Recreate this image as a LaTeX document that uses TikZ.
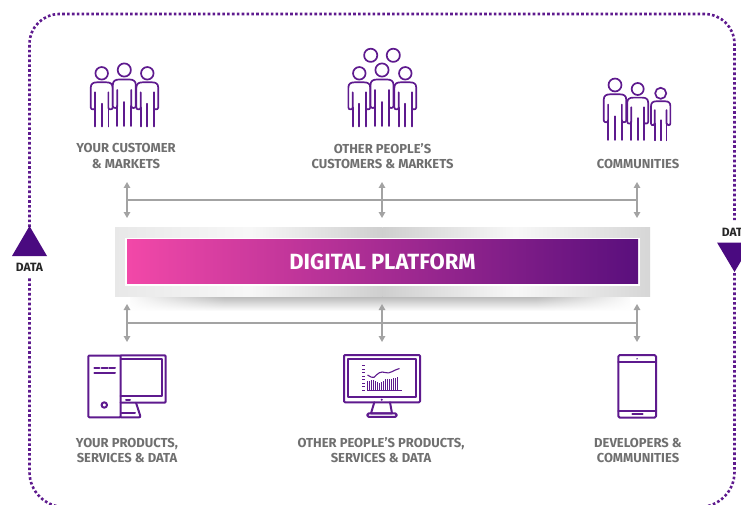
\documentclass[tikz,border=0pt]{standalone}
\usepackage{fontspec}
\setmainfont{Fira Sans}
\usetikzlibrary{arrows.meta,fadings}
\definecolor{pur}{HTML}{5E1A8E}
\definecolor{tri}{HTML}{4A0A80}
\definecolor{gry}{HTML}{A3A3A3}
\definecolor{lab}{HTML}{707070}
\tikzset{
  icon/.style={draw=pur,line width=1.7pt,line join=round,line cap=round},
  device/.style={draw=pur,line width=2pt,line join=round,line cap=round},
  dotline/.style={draw=pur,line width=2.6pt,dash pattern=on 2.6pt off 2.25pt},
  lbl/.style={font=\fontsize{13}{15.5}\selectfont\bfseries,text=lab,align=center,inner sep=0pt},
  datatxt/.style={font=\fontsize{12}{13}\selectfont\bfseries,text=black!85,inner sep=0pt},
  link/.style={draw=gry,line width=1.3pt},
  twoway/.style={link,{Triangle[width=6.5pt,length=6pt]}-{Triangle[width=6.5pt,length=6pt]}},
}
% #1 x, #2 y of head centre, #3 scale
\newcommand{\folk}[3]{%
  \begin{scope}[shift={(#1,#2)},scale=#3]
    \draw[icon] (0,0) circle (6.6);
    \fill[white] (-11.5,15) .. controls (-11.5,11) and (-9,9.5) .. (-5,9.5) -- (5,9.5) .. controls (9,9.5) and (11.5,11) .. (11.5,15) -- (11.5,38) -- (7,38) -- (7,56) -- (-7,56) -- (-7,38) -- (-11.5,38) -- cycle;
    \draw[icon] (-7,20) -- (-7,36) .. controls (-7,37.5) and (-8,38) .. (-9,38) .. controls (-10.5,38) and (-11.5,37.5) .. (-11.5,36) -- (-11.5,15) .. controls (-11.5,11) and (-9,9.5) .. (-5,9.5) -- (5,9.5) .. controls (9,9.5) and (11.5,11) .. (11.5,15) -- (11.5,36) .. controls (11.5,37.5) and (10.5,38) .. (9,38) .. controls (8,38) and (7,37.5) .. (7,36) -- (7,20);
    \draw[icon] (-7,36) -- (-7,56) (7,36) -- (7,56) (0,32) -- (0,56);
  \end{scope}}
\begin{document}
\begin{tikzpicture}[x=1pt,y=-1pt]
\useasboundingbox (0,0) rectangle (741,505);
\clip (0,0) rectangle (741,505);
\fill[white] (0,0) rectangle (741,505);

% dotted frame
\coordinate (ltop) at (29.5,227);
\coordinate (lbot) at (29.5,278);
\coordinate (rtop) at (734.5,220);
\coordinate (rbot) at (734.5,273);
\draw[dotline,rounded corners=30pt] (ltop) -- (29.5,14) -- (734.5,14) -- (rtop);
\draw[dotline,rounded corners=35pt] (rbot) -- (734.5,507) -- (29.5,507) -- (lbot);

% data markers
\fill[tri] (29.5,226) -- (47,256) -- (12,256) -- cycle;
\node[datatxt] (dl) at (29.5,267) {DATA};
\fill[tri] (734.5,272) -- (717,242.5) -- (752,242.5) -- cycle;
\node[datatxt] (dr) at (735.5,232.5) {DATA};

% platform
\shade[top color=black!30,bottom color=white] (130,295) rectangle (630,311);
\fill[white,path fading=east] (125,294) rectangle (225,312);
\fill[white,path fading=west] (535,294) rectangle (635,312);
\shade[left color=black!9,right color=black!3] (115,227) rectangle (250,296);
\shade[left color=black!3,right color=black!19] (250,227) rectangle (382.5,296);
\shade[left color=black!19,right color=black!3] (382.5,227) rectangle (515,296);
\shade[left color=black!3,right color=black!16] (515,227) rectangle (650,296);
\fill[white] (125,238) rectangle (640,285.5);
\node[minimum width=511pt,minimum height=43.5pt,inner sep=0pt,left color={rgb,255:red,242;green,72;blue,168},right color={rgb,255:red,90;green,15;blue,125},text=white,font=\fontsize{22}{24}\selectfont\bfseries] (plat) at (382.5,261.5) {DIGITAL PLATFORM};

% top people
\folk{101.7}{73.3}{0.95}
\folk{147.3}{73.3}{0.95}
\folk{124.3}{70}{1}
\draw[icon] (370.7,55.3) circle (6.6) (393.3,55.3) circle (6.6);
\folk{359.3}{73.3}{0.95}
\folk{405.3}{73.3}{0.95}
\folk{382}{70}{1}
\folk{660.7}{93.3}{0.84}
\folk{637.7}{89}{0.91}
\folk{615}{85}{0.98}

\node[lbl] (a) at (126,156) {YOUR CUSTOMER\\\& MARKETS};
\node[lbl] (b) at (382.5,156) {OTHER PEOPLE'S\\CUSTOMERS \& MARKETS};
\node[lbl] (c) at (638,163.5) {COMMUNITIES};
\node[lbl] (d) at (127,450.5) {YOUR PRODUCTS,\\SERVICES \& DATA};
\node[lbl] (e) at (381,450) {OTHER PEOPLE'S PRODUCTS,\\SERVICES \& DATA};
\node[lbl] (f) at (638,450.5) {DEVELOPERS \&\\COMMUNITIES};

% connectors
\coordinate (t1a) at (127,182); \coordinate (t1b) at (127,218);
\coordinate (t2a) at (382,182); \coordinate (t2b) at (382,218);
\coordinate (t3a) at (637,182); \coordinate (t3b) at (637,218);
\coordinate (b1a) at (127,304); \coordinate (b1b) at (127,342);
\coordinate (b2a) at (382,304); \coordinate (b2b) at (382,342);
\coordinate (b3a) at (637,304); \coordinate (b3b) at (637,342);
\foreach \p/\q in {t1a/t1b,t2a/t2b,t3a/t3b,b1a/b1b,b2a/b2b,b3a/b3b} \draw[twoway] (\p) -- (\q);
\coordinate (tl) at (127,200); \coordinate (tr) at (637,200);
\coordinate (bl) at (127,323); \coordinate (br) at (637,323);
\draw[link] (tl) -- (tr);
\draw[link] (bl) -- (br);

% PC
\draw[device,rounded corners=1pt] (120.7,355.3) -- (165.7,355.3) -- (165.7,402.7) -- (120.7,402.7);
\draw[device] (120.7,359.3) -- (161.7,359.3) -- (161.7,396) -- (120.7,396);
\draw[device,rounded corners=1pt] (88.3,355.5) rectangle (120.7,417.3);
\draw[device] (94.3,368) -- (99.3,368) (101.7,368) -- (107.7,368) (109.3,368) -- (115,368) (94.3,372.7) -- (115,372.7);
\draw[device] (104.3,405) circle (2.7);
\draw[device] (126,399.8) -- (130,399.8);
\draw[device] (136,402.7) -- (140,415) .. controls (140.5,417) .. (139,417.3) -- (120.7,417.3);
\draw[device] (121.7,412.7) -- (135,412.7);

% monitor
\draw[device,rounded corners=1pt] (344,355) rectangle (420,402.3);
\draw[device] (348.3,359) rectangle (416,396.7);
\fill[pur] (381.7,399.7) circle (1.1);
\draw[device] (374.3,402.3) -- (371,413.3) -- (392,413.3) -- (390,402.3);
\draw[device,rounded corners=1.5pt] (367.3,413.3) rectangle (396.7,416.9);
\draw[pur,line width=1.1pt] (367.5,375) .. controls (371,377) and (372,378) .. (374,377.3) .. controls (378,373) and (381,371) .. (385,372.5) .. controls (390,374.5) and (393,370) .. (399.5,368.5);
\foreach \xx/\yy in {367.5/381,369.5/380.5,371.5/380,373.5/380,375.5/380.5,377.5/382,379.5/383,381.5/382,383.5/380.5,385.5/379,387.5/378.5,389.5/379,391.5/378.5,393.5/378,395.5/377.5,397.5/377}
  \draw[pur,line width=1.1pt] (\xx,390.5) -- (\xx,\yy);
\draw[pur,line width=1pt] (367,390.5) -- (402,390.5);
\foreach \yy in {365.5,369,372.5,376,379.5,383,386.5,390}
  \draw[pur,line width=1pt] (362,\yy) -- (365,\yy);

% phone
\draw[device,rounded corners=1.5pt] (618.3,355) rectangle (656,417.7);
\draw[device] (618.3,362.3) -- (656,362.3) (618.3,410.7) -- (656,410.7) (632.3,413.9) -- (642.7,413.9);
\fill[pur] (637,358.8) circle (0.8);
\end{tikzpicture}
\end{document}
